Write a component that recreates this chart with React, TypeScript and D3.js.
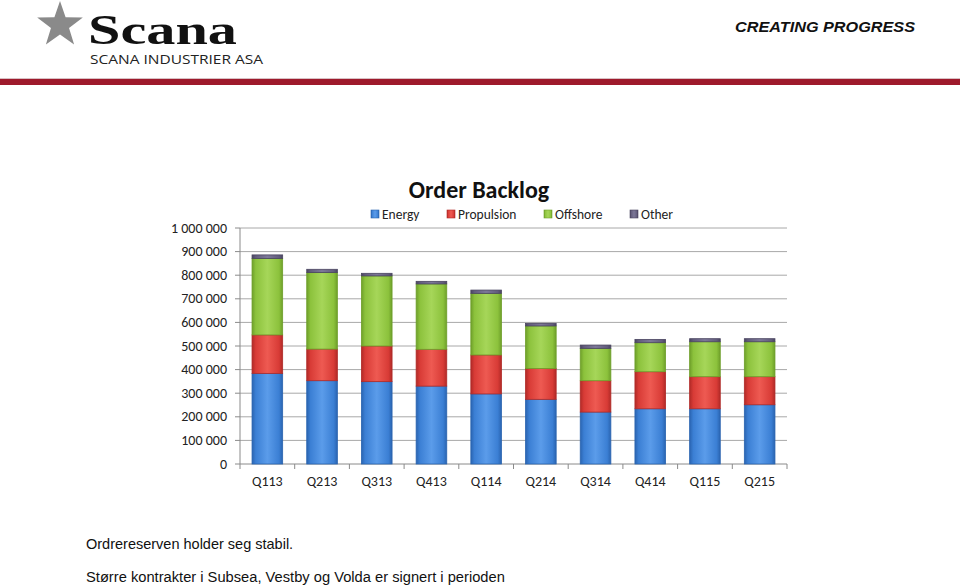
import React from "react";
import * as d3 from "d3";

const categories = ["Q113", "Q213", "Q313", "Q413", "Q114", "Q214", "Q314", "Q414", "Q115", "Q215"];
const energy = [384000, 353000, 349000, 330000, 297000, 274000, 220000, 234000, 234000, 251000];
const propulsion = [163000, 134000, 151000, 156000, 165000, 131000, 133000, 157000, 136000, 119000];
const offshore = [324000, 324000, 297000, 277000, 261000, 180000, 137000, 123000, 148000, 148000];
const other = [15000, 14000, 11000, 11000, 14000, 11000, 14000, 14000, 13000, 13000];
const seriesNames = ["Energy", "Propulsion", "Offshore", "Other"];
const yTicks = [0, 100000, 200000, 300000, 400000, 500000, 600000, 700000, 800000, 900000, 1000000];

const colors = [
  { base: "#3b7fd4", light: "#5b9cea", dark: "#2a64b0" },
  { base: "#d83b36", light: "#ee5a52", dark: "#b02a27" },
  { base: "#8cc23c", light: "#a6d659", dark: "#6e9f2a" },
  { base: "#625c7c", light: "#7d7898", dark: "#4a4560" },
];

const fmt = (v: number) => d3.format(",")(v).replace(/,/g, " ");

export default function App() {
  const W = 960, H = 586;
  const x = d3.scaleBand().domain(categories).range([240, 787]).paddingInner(0.44).paddingOuter(0.22);
  const y = d3.scaleLinear().domain([0, 1000000]).range([464, 228]);

  const rows = categories.map((c, i) => ({ cat: c, Energy: energy[i], Propulsion: propulsion[i], Offshore: offshore[i], Other: other[i] }));
  const stacked = d3.stack<any>().keys(seriesNames)(rows);

  const starPts = d3.range(10).map((k) => {
    const r = k % 2 === 0 ? 24 : 9.5;
    const a = -Math.PI / 2 + (k * Math.PI) / 5;
    return [60 + r * Math.cos(a), 25 + r * Math.sin(a)];
  });

  const legendX = [371, 447, 544, 630];
  const font = "Carlito, 'Open Sans', sans-serif";

  return (
    <svg width={W} height={H} style={{ position: "absolute", left: 0, top: 0, background: "#fff" }} fontFamily={font}>
      <defs>
        {colors.map((c, i) => (
          <linearGradient key={i} id={`g${i}`} x1="0" x2="1" y1="0" y2="0">
            <stop offset="0" stopColor={c.dark} />
            <stop offset="0.12" stopColor={c.base} />
            <stop offset="0.5" stopColor={c.light} />
            <stop offset="0.88" stopColor={c.base} />
            <stop offset="1" stopColor={c.dark} />
          </linearGradient>
        ))}
      </defs>
      <rect width={W} height={H} fill="#fff" />
      {/* Header */}
      <polygon points={starPts.map((p) => p.join(",")).join(" ")} fill="#8a8a8a" />
      <text x={88} y={44} fontFamily="'Liberation Serif', 'DejaVu Serif', serif" fontWeight="bold" fontSize={42} textLength={149} lengthAdjust="spacingAndGlyphs" fill="#111">Scana</text>
      <text x={90} y={64} fontFamily="'Open Sans', 'Liberation Sans', sans-serif" fontSize={12} textLength={173} lengthAdjust="spacingAndGlyphs" fill="#222">SCANA INDUSTRIER ASA</text>
      <text x={735} y={32} fontFamily="'Liberation Sans', Arial, sans-serif" fontWeight="900" fontStyle="italic" fontSize={15} textLength={180} lengthAdjust="spacingAndGlyphs" fill="#111">CREATING PROGRESS</text>
      <rect x={0} y={78} width={W} height={1} fill="#d8c0c4" />
      <rect x={0} y={79} width={W} height={6} fill="#9e1a2c" />

      {/* Chart title & legend */}
      <text x={479} y={198} textAnchor="middle" fontWeight="bold" fontSize={24} fill="#111">Order Backlog</text>
      {seriesNames.map((s, i) => (
        <g key={s}>
          <rect x={legendX[i]} y={210} width={8} height={8} fill={`url(#g${i})`} stroke={colors[i].dark} strokeWidth={0.6} />
          <text x={legendX[i] + 11} y={218.5} fontSize={13.5} fill="#222">{s}</text>
        </g>
      ))}

      {/* Grid */}
      {yTicks.map((t) => (
        <g key={t}>
          {t > 0 && <line x1={240} x2={787} y1={y(t)} y2={y(t)} stroke="#a8a8a8" strokeWidth={1} />}
          <line x1={235} x2={240} y1={y(t)} y2={y(t)} stroke="#8a8a8a" />
          <text x={227} y={y(t) + 4.5} textAnchor="end" fontSize={14} fill="#222">{fmt(t)}</text>
        </g>
      ))}
      <line x1={240} x2={240} y1={228} y2={464} stroke="#8a8a8a" />
      <line x1={240} x2={787} y1={464} y2={464} stroke="#8a8a8a" />
      {d3.range(categories.length + 1).map((k) => {
        const xx = 240 + (k * (787 - 240)) / categories.length;
        return <line key={k} x1={xx} x2={xx} y1={464} y2={469} stroke="#8a8a8a" />;
      })}

      {/* Bars */}
      {stacked.map((layer, si) => (
        <g key={si}>
          {layer.map((d, i) => (
            <rect
              key={i}
              x={x(categories[i])!}
              y={y(d[1])}
              width={x.bandwidth()}
              height={y(d[0]) - y(d[1])}
              fill={`url(#g${si})`}
              stroke={colors[si].dark}
              strokeWidth={0.8}
            />
          ))}
        </g>
      ))}

      {categories.map((c) => (
        <text key={c} x={x(c)! + x.bandwidth() / 2} y={486} textAnchor="middle" fontSize={14} fill="#222">{c}</text>
      ))}

      {/* Notes */}
      <text x={86} y={549} fontFamily="'Liberation Sans', Arial, sans-serif" fontSize={14.5} fill="#111">Ordrereserven holder seg stabil.</text>
      <text x={86} y={582} fontFamily="'Liberation Sans', Arial, sans-serif" fontSize={14.7} fill="#111">Større kontrakter i Subsea, Vestby og Volda er signert i perioden</text>
    </svg>
  );
}
